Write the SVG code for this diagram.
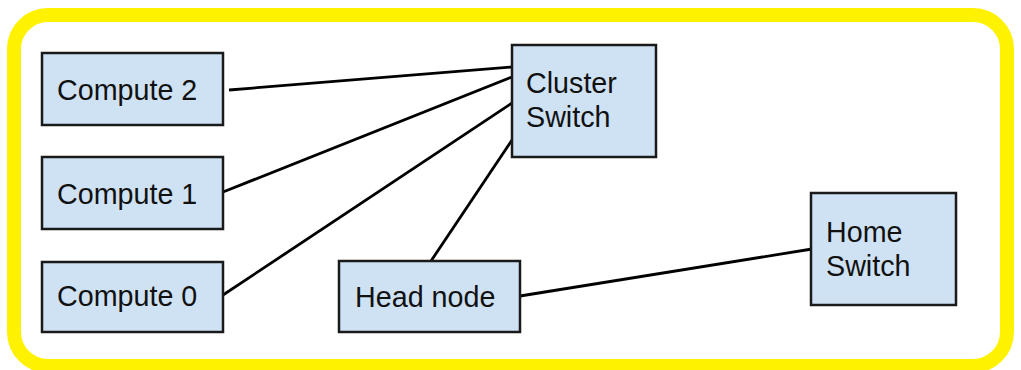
<svg xmlns="http://www.w3.org/2000/svg" width="1021" height="370" viewBox="0 0 1021 370">
<style>
.node rect{fill:#cfe2f3;stroke:#1a1a1a;stroke-width:2.5}
.node text{font-family:"Liberation Sans",Arial,sans-serif;font-size:28.7px;fill:#111}
#connectors line{stroke:#000;stroke-width:2.8;stroke-linecap:butt}
</style>
<rect x="14" y="15" width="993" height="351" rx="34" ry="34" fill="#fff" stroke="#fff200" stroke-width="14"/>
<g id="connectors">
<line x1="229" y1="90" x2="512" y2="67"/>
<line x1="223" y1="192" x2="512" y2="77"/>
<line x1="223" y1="295" x2="512" y2="103"/>
<line x1="431" y1="261" x2="512" y2="140"/>
<line x1="520" y1="296" x2="812" y2="249"/>
</g>
<g id="compute2" class="node"><rect x="42" y="53" width="181" height="72"/><text x="57" y="100">Compute 2</text></g>
<g id="compute1" class="node"><rect x="42" y="157" width="181" height="72"/><text x="57" y="204">Compute 1</text></g>
<g id="compute0" class="node"><rect x="42" y="262" width="181" height="70"/><text x="57" y="306">Compute 0</text></g>
<g id="cluster-switch" class="node"><rect x="512" y="45" width="144" height="112"/><text x="526" y="93">Cluster</text><text x="526" y="127">Switch</text></g>
<g id="head-node" class="node"><rect x="339" y="261" width="181" height="71"/><text x="355" y="307">Head node</text></g>
<g id="home-switch" class="node"><rect x="811" y="193" width="145" height="112"/><text x="826" y="242">Home</text><text x="826" y="276">Switch</text></g>
</svg>
